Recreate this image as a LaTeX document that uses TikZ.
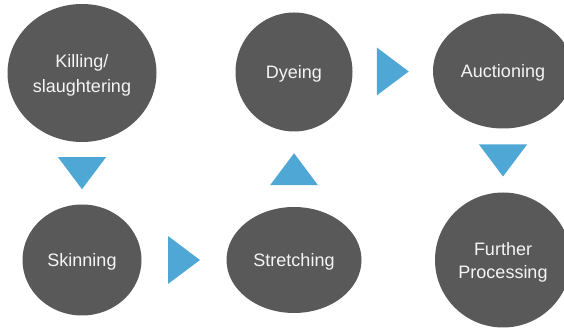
\documentclass[tikz,border=0pt]{standalone}
\usepackage{fontspec}
\setmainfont{Liberation Sans}
\usepackage{tikz}
\usetikzlibrary{calc,shapes.geometric}
\definecolor{StageGray}{HTML}{595959}
\definecolor{FlowBlue}{HTML}{4FA7D6}

\begin{document}
\begin{tikzpicture}[
    x=1pt,y=1pt,
    stage/.style={ellipse,fill=StageGray,text=white!96!black,inner sep=0pt,text depth=0pt,align=center,font=\fontsize{18}{25}\selectfont},
    pics/flowtri/.style={code={\fill[FlowBlue] (-16,-24) -- (16,0) -- (-16,24) -- cycle;}}
]
\useasboundingbox (0,0) rectangle (564,331);
\clip (0,0) rectangle (564,331);
\node[stage,minimum width=149pt,minimum height=138pt] (kill) at (82,258) {Killing/\\slaughtering};
\node[stage,minimum width=119pt,minimum height=111pt] (skin) at (82,71) {Skinning};
\node[stage,minimum width=135pt,minimum height=106pt] (stretch) at (294,71) {Stretching};
\node[stage,minimum width=117pt,minimum height=119pt] (dye) at (294,259) {Dyeing};
\node[stage,minimum width=140pt,minimum height=115pt] (auction) at (503,260) {Auctioning};
\node[stage,minimum width=136pt,minimum height=135pt,font=\fontsize{18}{23}\selectfont] (further) at (503,71) {Further\\Processing};
% flow markers between the stages
\pic[rotate=-90] at ($(kill.south)!0.5!(skin.north)$) {flowtri};
\pic at ($(skin.east)!0.5!(stretch.west)$) {flowtri};
\pic[rotate=90] at ($(stretch.north)!0.5!(dye.south)$) {flowtri};
\pic at ($(dye.east)!0.5!(auction.west)$) {flowtri};
\pic[rotate=-90] at ($(auction.south)!0.5!(further.north)$) {flowtri};
\end{tikzpicture}
\end{document}
